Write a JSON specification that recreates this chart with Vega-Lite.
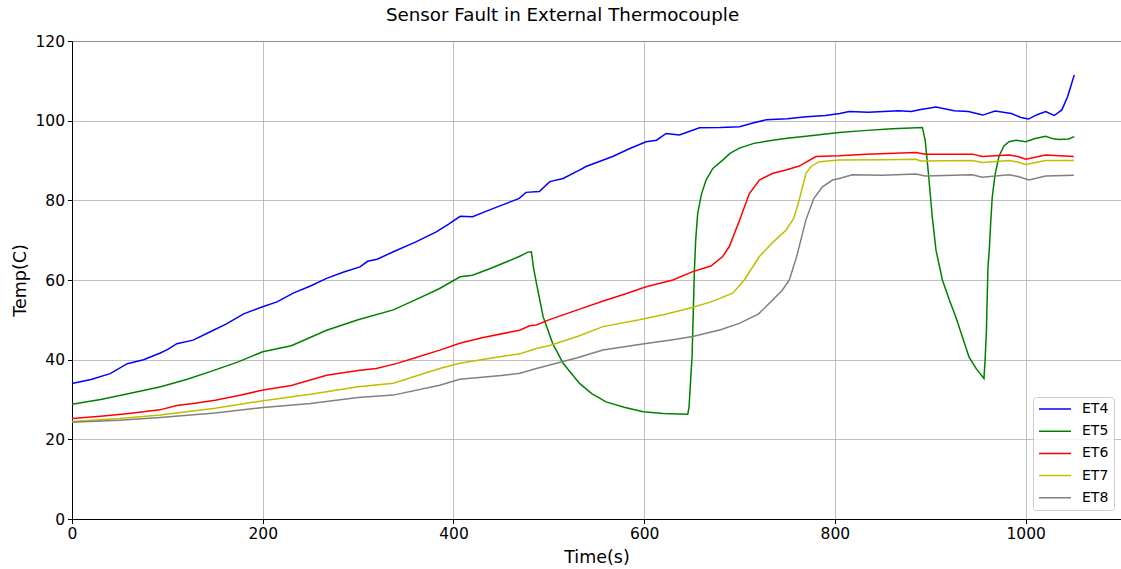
{
  "$schema": "https://vega.github.io/schema/vega-lite/v6.json",
  "autosize": {"type": "none"},
  "width": 1049,
  "height": 478,
  "padding": {"left": 72, "top": 41, "right": 0, "bottom": 50},
  "background": "white",
  "title": {"text": "Sensor Fault in External Thermocouple", "fontSize": 18.3, "font": "DejaVu Sans", "fontWeight": "normal", "color": "black", "anchor": "middle", "offset": 9, "dx": -34},
  "config": {
    "font": "DejaVu Sans",
    "view": {"stroke": "black", "strokeWidth": 1},
    "axis": {
      "grid": true, "gridColor": "#b0b0b0", "gridWidth": 0.8,
      "domainColor": "black", "domainWidth": 1,
      "tickColor": "black", "tickSize": 4.5, "tickWidth": 1,
      "labelFontSize": 15.5, "labelColor": "black", "labelFont": "DejaVu Sans", "labelPadding": 3, "labelFlush": false,
      "titleFontSize": 17.5, "titleFontWeight": "normal", "titleColor": "black", "titleFont": "DejaVu Sans"
    }
  },
  "data": {"values": [
    {"t":0,"s":"ET4","v":34},{"t":20,"s":"ET4","v":35},{"t":40,"s":"ET4","v":36.5},{"t":58,"s":"ET4","v":39},{"t":75,"s":"ET4","v":40},{"t":92,"s":"ET4","v":41.6},{"t":100,"s":"ET4","v":42.5},{"t":110,"s":"ET4","v":44},{"t":127,"s":"ET4","v":44.9},{"t":145,"s":"ET4","v":47},{"t":162,"s":"ET4","v":49},{"t":180,"s":"ET4","v":51.5},{"t":200,"s":"ET4","v":53.3},{"t":215,"s":"ET4","v":54.5},{"t":232,"s":"ET4","v":56.7},{"t":250,"s":"ET4","v":58.5},{"t":267,"s":"ET4","v":60.4},{"t":285,"s":"ET4","v":62},{"t":302,"s":"ET4","v":63.3},{"t":310,"s":"ET4","v":64.7},{"t":320,"s":"ET4","v":65.2},{"t":337,"s":"ET4","v":67.1},{"t":360,"s":"ET4","v":69.5},{"t":382,"s":"ET4","v":72.1},{"t":395,"s":"ET4","v":74},{"t":407,"s":"ET4","v":76},{"t":420,"s":"ET4","v":75.9},{"t":440,"s":"ET4","v":77.8},{"t":469,"s":"ET4","v":80.5},{"t":476,"s":"ET4","v":82},{"t":490,"s":"ET4","v":82.2},{"t":501,"s":"ET4","v":84.7},{"t":515,"s":"ET4","v":85.5},{"t":532,"s":"ET4","v":87.6},{"t":539,"s":"ET4","v":88.5},{"t":567,"s":"ET4","v":91},{"t":585,"s":"ET4","v":93},{"t":602,"s":"ET4","v":94.7},{"t":613,"s":"ET4","v":95.1},{"t":623,"s":"ET4","v":96.8},{"t":637,"s":"ET4","v":96.4},{"t":658,"s":"ET4","v":98.2},{"t":680,"s":"ET4","v":98.3},{"t":700,"s":"ET4","v":98.5},{"t":715,"s":"ET4","v":99.5},{"t":728,"s":"ET4","v":100.2},{"t":750,"s":"ET4","v":100.5},{"t":770,"s":"ET4","v":101},{"t":790,"s":"ET4","v":101.3},{"t":805,"s":"ET4","v":101.8},{"t":815,"s":"ET4","v":102.3},{"t":835,"s":"ET4","v":102.1},{"t":867,"s":"ET4","v":102.5},{"t":880,"s":"ET4","v":102.3},{"t":890,"s":"ET4","v":102.8},{"t":906,"s":"ET4","v":103.4},{"t":925,"s":"ET4","v":102.5},{"t":940,"s":"ET4","v":102.3},{"t":955,"s":"ET4","v":101.4},{"t":968,"s":"ET4","v":102.4},{"t":985,"s":"ET4","v":101.8},{"t":995,"s":"ET4","v":100.8},{"t":1003,"s":"ET4","v":100.4},{"t":1012,"s":"ET4","v":101.5},{"t":1021,"s":"ET4","v":102.3},{"t":1030,"s":"ET4","v":101.3},{"t":1038,"s":"ET4","v":102.7},{"t":1044,"s":"ET4","v":106},{"t":1051,"s":"ET4","v":111.5},
    {"t":0,"s":"ET5","v":28.8},{"t":30,"s":"ET5","v":30},{"t":60,"s":"ET5","v":31.5},{"t":93,"s":"ET5","v":33.2},{"t":120,"s":"ET5","v":35},{"t":145,"s":"ET5","v":37},{"t":175,"s":"ET5","v":39.5},{"t":200,"s":"ET5","v":42},{"t":230,"s":"ET5","v":43.5},{"t":267,"s":"ET5","v":47.4},{"t":300,"s":"ET5","v":50},{"t":337,"s":"ET5","v":52.5},{"t":360,"s":"ET5","v":55},{"t":385,"s":"ET5","v":57.8},{"t":407,"s":"ET5","v":60.8},{"t":420,"s":"ET5","v":61.2},{"t":440,"s":"ET5","v":63},{"t":469,"s":"ET5","v":65.9},{"t":478,"s":"ET5","v":67},{"t":481.7,"s":"ET5","v":67.1},{"t":484,"s":"ET5","v":63},{"t":487,"s":"ET5","v":59.2},{"t":494,"s":"ET5","v":50.8},{"t":504,"s":"ET5","v":44.1},{"t":515,"s":"ET5","v":39.1},{"t":532,"s":"ET5","v":34.1},{"t":545,"s":"ET5","v":31.5},{"t":560,"s":"ET5","v":29.4},{"t":580,"s":"ET5","v":28},{"t":599,"s":"ET5","v":26.9},{"t":620,"s":"ET5","v":26.5},{"t":645.7,"s":"ET5","v":26.3},{"t":647,"s":"ET5","v":28},{"t":648.5,"s":"ET5","v":34},{"t":650.2,"s":"ET5","v":40.7},{"t":651.5,"s":"ET5","v":52},{"t":652.6,"s":"ET5","v":62},{"t":654,"s":"ET5","v":70},{"t":656.1,"s":"ET5","v":76.7},{"t":660,"s":"ET5","v":81.5},{"t":664.9,"s":"ET5","v":85.1},{"t":672,"s":"ET5","v":88},{"t":682.3,"s":"ET5","v":90.1},{"t":690,"s":"ET5","v":91.8},{"t":699.8,"s":"ET5","v":93.1},{"t":715,"s":"ET5","v":94.3},{"t":734.7,"s":"ET5","v":95.1},{"t":750,"s":"ET5","v":95.6},{"t":769.6,"s":"ET5","v":96.1},{"t":804.5,"s":"ET5","v":97},{"t":830,"s":"ET5","v":97.5},{"t":860,"s":"ET5","v":98},{"t":891.7,"s":"ET5","v":98.3},{"t":894.6,"s":"ET5","v":95.1},{"t":898,"s":"ET5","v":87},{"t":902,"s":"ET5","v":76},{"t":906,"s":"ET5","v":67.5},{"t":912.7,"s":"ET5","v":60},{"t":920,"s":"ET5","v":55},{"t":926.7,"s":"ET5","v":50.8},{"t":934,"s":"ET5","v":45.5},{"t":940.6,"s":"ET5","v":40.7},{"t":948,"s":"ET5","v":37.8},{"t":956.3,"s":"ET5","v":35.3},{"t":957.5,"s":"ET5","v":40},{"t":958.8,"s":"ET5","v":46.6},{"t":960.5,"s":"ET5","v":63.3},{"t":962,"s":"ET5","v":68},{"t":963.5,"s":"ET5","v":75},{"t":965,"s":"ET5","v":80.9},{"t":968,"s":"ET5","v":86.5},{"t":972,"s":"ET5","v":91},{"t":977,"s":"ET5","v":93.6},{"t":982.5,"s":"ET5","v":94.7},{"t":990,"s":"ET5","v":95.1},{"t":1000,"s":"ET5","v":94.7},{"t":1010,"s":"ET5","v":95.5},{"t":1021,"s":"ET5","v":96.1},{"t":1028,"s":"ET5","v":95.5},{"t":1035,"s":"ET5","v":95.3},{"t":1045,"s":"ET5","v":95.4},{"t":1051,"s":"ET5","v":96},
    {"t":0,"s":"ET6","v":25.2},{"t":30,"s":"ET6","v":25.8},{"t":60,"s":"ET6","v":26.5},{"t":92,"s":"ET6","v":27.4},{"t":110,"s":"ET6","v":28.5},{"t":127,"s":"ET6","v":29},{"t":150,"s":"ET6","v":29.8},{"t":175,"s":"ET6","v":31},{"t":200.6,"s":"ET6","v":32.4},{"t":230,"s":"ET6","v":33.5},{"t":267,"s":"ET6","v":36.1},{"t":300,"s":"ET6","v":37.3},{"t":319,"s":"ET6","v":37.8},{"t":340,"s":"ET6","v":39},{"t":360,"s":"ET6","v":40.5},{"t":385.6,"s":"ET6","v":42.4},{"t":406.6,"s":"ET6","v":44.1},{"t":430,"s":"ET6","v":45.5},{"t":469.4,"s":"ET6","v":47.4},{"t":480,"s":"ET6","v":48.5},{"t":487,"s":"ET6","v":48.7},{"t":500,"s":"ET6","v":50},{"t":530,"s":"ET6","v":52.5},{"t":560.2,"s":"ET6","v":55},{"t":580,"s":"ET6","v":56.5},{"t":602.1,"s":"ET6","v":58.3},{"t":630,"s":"ET6","v":60},{"t":650.9,"s":"ET6","v":62.1},{"t":670,"s":"ET6","v":63.5},{"t":682.3,"s":"ET6","v":65.9},{"t":689.3,"s":"ET6","v":68.4},{"t":700,"s":"ET6","v":75},{"t":710.3,"s":"ET6","v":81.7},{"t":720.8,"s":"ET6","v":85.1},{"t":735,"s":"ET6","v":86.8},{"t":748.7,"s":"ET6","v":87.6},{"t":762.6,"s":"ET6","v":88.6},{"t":780.1,"s":"ET6","v":91},{"t":804.5,"s":"ET6","v":91.2},{"t":832.5,"s":"ET6","v":91.6},{"t":884.8,"s":"ET6","v":92},{"t":895,"s":"ET6","v":91.6},{"t":944.1,"s":"ET6","v":91.6},{"t":954.5,"s":"ET6","v":91},{"t":982.5,"s":"ET6","v":91.4},{"t":992,"s":"ET6","v":91},{"t":1000,"s":"ET6","v":90.3},{"t":1010,"s":"ET6","v":90.8},{"t":1020.9,"s":"ET6","v":91.4},{"t":1050.6,"s":"ET6","v":91},
    {"t":0,"s":"ET7","v":24.5},{"t":50,"s":"ET7","v":25.2},{"t":92.5,"s":"ET7","v":26.1},{"t":150,"s":"ET7","v":27.8},{"t":200.6,"s":"ET7","v":29.7},{"t":250,"s":"ET7","v":31.3},{"t":300,"s":"ET7","v":33.2},{"t":336.8,"s":"ET7","v":34.1},{"t":385.6,"s":"ET7","v":37.8},{"t":406.6,"s":"ET7","v":39.1},{"t":450,"s":"ET7","v":40.8},{"t":470,"s":"ET7","v":41.5},{"t":486.9,"s":"ET7","v":42.8},{"t":500,"s":"ET7","v":43.5},{"t":530,"s":"ET7","v":45.8},{"t":556.7,"s":"ET7","v":48.3},{"t":595,"s":"ET7","v":50},{"t":620,"s":"ET7","v":51.3},{"t":647.4,"s":"ET7","v":52.9},{"t":670,"s":"ET7","v":54.5},{"t":692.8,"s":"ET7","v":56.7},{"t":705,"s":"ET7","v":60},{"t":720.8,"s":"ET7","v":65.9},{"t":735,"s":"ET7","v":69.5},{"t":748.7,"s":"ET7","v":72.5},{"t":757,"s":"ET7","v":75.5},{"t":762.6,"s":"ET7","v":80.1},{"t":769.6,"s":"ET7","v":86.8},{"t":775,"s":"ET7","v":88.5},{"t":783.6,"s":"ET7","v":89.7},{"t":804.5,"s":"ET7","v":90.1},{"t":850,"s":"ET7","v":90.2},{"t":884.8,"s":"ET7","v":90.3},{"t":890,"s":"ET7","v":89.9},{"t":944,"s":"ET7","v":90},{"t":954.5,"s":"ET7","v":89.5},{"t":982.5,"s":"ET7","v":90},{"t":992,"s":"ET7","v":89.6},{"t":1000,"s":"ET7","v":89},{"t":1020.9,"s":"ET7","v":90},{"t":1050.6,"s":"ET7","v":90},
    {"t":0,"s":"ET8","v":24.3},{"t":50,"s":"ET8","v":24.8},{"t":92.5,"s":"ET8","v":25.5},{"t":150,"s":"ET8","v":26.6},{"t":200.6,"s":"ET8","v":28},{"t":250,"s":"ET8","v":29},{"t":300,"s":"ET8","v":30.5},{"t":336.8,"s":"ET8","v":31.1},{"t":385.6,"s":"ET8","v":33.6},{"t":406.6,"s":"ET8","v":35.1},{"t":450,"s":"ET8","v":36},{"t":470,"s":"ET8","v":36.6},{"t":486.9,"s":"ET8","v":37.8},{"t":507.9,"s":"ET8","v":39.1},{"t":530,"s":"ET8","v":40.5},{"t":556.7,"s":"ET8","v":42.4},{"t":600,"s":"ET8","v":44},{"t":630,"s":"ET8","v":45},{"t":650.9,"s":"ET8","v":45.8},{"t":680,"s":"ET8","v":47.5},{"t":699.8,"s":"ET8","v":49.1},{"t":720,"s":"ET8","v":51.5},{"t":734.7,"s":"ET8","v":55},{"t":745,"s":"ET8","v":57.5},{"t":752.2,"s":"ET8","v":60},{"t":760,"s":"ET8","v":66},{"t":769.6,"s":"ET8","v":75.1},{"t":778,"s":"ET8","v":80.5},{"t":787,"s":"ET8","v":83.4},{"t":797.5,"s":"ET8","v":85.1},{"t":804.5,"s":"ET8","v":85.5},{"t":818.4,"s":"ET8","v":86.4},{"t":850,"s":"ET8","v":86.3},{"t":884.8,"s":"ET8","v":86.6},{"t":894.6,"s":"ET8","v":86.1},{"t":944,"s":"ET8","v":86.4},{"t":954.5,"s":"ET8","v":85.8},{"t":982.5,"s":"ET8","v":86.4},{"t":992,"s":"ET8","v":86},{"t":1003.5,"s":"ET8","v":85.1},{"t":1020.9,"s":"ET8","v":86.1},{"t":1050.6,"s":"ET8","v":86.3}
  ]},
  "mark": {"type": "line", "strokeWidth": 1.5, "interpolate": "linear"},
  "encoding": {
    "x": {"field": "t", "type": "quantitative", "title": "Time(s)",
          "scale": {"domain": [0, 1100], "nice": false, "zero": false},
          "axis": {"values": [0, 200, 400, 600, 800, 1000], "format": "d", "titlePadding": 6}},
    "y": {"field": "v", "type": "quantitative", "title": "Temp(C)",
          "scale": {"domain": [0, 120], "nice": false},
          "axis": {"values": [0, 20, 40, 60, 80, 100, 120], "format": "d", "titlePadding": 5}},
    "color": {"field": "s", "type": "nominal",
      "scale": {"domain": ["ET4", "ET5", "ET6", "ET7", "ET8"], "range": ["#0000ff", "#008000", "#ff0000", "#bfbf00", "#808080"]},
      "legend": {"title": null, "orient": "none", "legendX": 961, "legendY": 356,
        "symbolType": "stroke", "symbolSize": 1024, "symbolStrokeWidth": 1.5, "clipHeight": 14, "rowPadding": 8.2,
        "labelFontSize": 14, "labelColor": "black", "labelFont": "DejaVu Sans", "labelOffset": 10,
        "padding": 5, "fillColor": "rgba(255,255,255,0.8)", "strokeColor": "#cccccc", "cornerRadius": 3}}
  }
}
